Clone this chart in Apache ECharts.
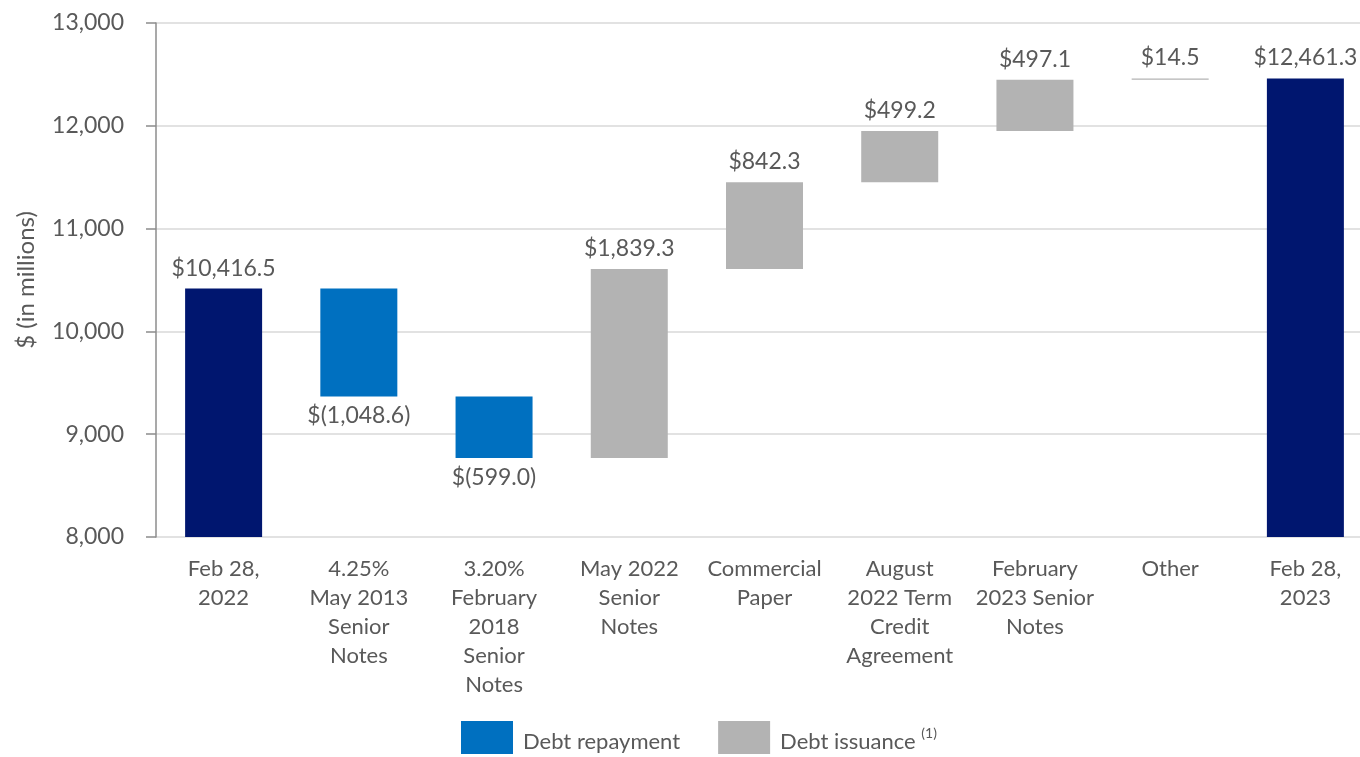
<!DOCTYPE html>
<html lang="en">
<head>
    <meta charset="UTF-8">
    <title>Debt waterfall</title>
    <script src="https://cdn.jsdelivr.net/npm/echarts@6/dist/echarts.min.js"></script>
    <style>
        html, body { margin: 0; padding: 0; background: #fff; }
        #chart { width: 1360px; height: 757px; }
    </style>
</head>
<body>
    <div id="chart"></div>
<script>
    var categories = [
        'Feb 28,\n2022',
        '4.25%\nMay 2013\nSenior\nNotes',
        '3.20%\nFebruary\n2018\nSenior\nNotes',
        'May 2022\nSenior\nNotes',
        'Commercial\nPaper',
        'August\n2022 Term\nCredit\nAgreement',
        'February\n2023 Senior\nNotes',
        'Other',
        'Feb 28,\n2023'
    ];
    // change per step, first and last are totals
    var startTotal = 10416.5;
    var endTotal = 12461.3;
    var changes = [null, -1048.6, -599.0, 1839.3, 842.3, 499.2, 497.1, 14.5, null];

    var yTicks = [8000, 9000, 10000, 11000, 12000, 13000];

    var textColor = '#595959';
    var font = 'Lato';

    function money(v) {
        var s = Math.abs(v).toLocaleString('en-US', { minimumFractionDigits: 1, maximumFractionDigits: 1 });
        return v < 0 ? '$(' + s + ')' : '$' + s;
    }

    // build invisible base + visible pieces
    var base = [], totals = [], repay = [], issue = [];
    var running = startTotal;
    for (var i = 0; i < categories.length; i++) {
        if (i == 0) {
            base.push('-'); totals.push(startTotal); repay.push('-'); issue.push('-');
        } else if (i == categories.length - 1) {
            base.push('-'); totals.push(endTotal); repay.push('-'); issue.push('-');
        } else {
            var c = changes[i];
            if (c < 0) {
                running += c;
                base.push(running); repay.push(-c); issue.push('-');
            } else {
                base.push(running); issue.push(c); repay.push('-');
                running += c;
            }
            totals.push('-');
        }
    }

    var chart = echarts.init(document.getElementById('chart'));

    var labelStyle = { show: true, color: textColor, fontFamily: font, fontSize: 23 };

    var option = {
        animation: false,
        textStyle: { fontFamily: font },
        grid: { left: 156, width: 1217, top: 23, height: 514, outerBoundsMode: 'none', containLabel: false },
        legend: {
            bottom: -2,
            left: 456,
            itemWidth: 52,
            itemHeight: 33,
            itemGap: 38,
            icon: 'rect',
            data: ['Debt repayment', 'Debt issuance'],
            textStyle: {
                color: textColor, fontSize: 22, fontFamily: font, padding: [8, 0, 0, 5],
                rich: {
                    s: { fontSize: 14, color: textColor, fontFamily: font, verticalAlign: 'top', padding: [0, 0, 16, 0] }
                }
            },
            formatter: function (name) {
                return name == 'Debt issuance' ? name + ' {s|(1)}' : name;
            }
        },
        xAxis: {
            type: 'category',
            data: categories,
            axisLine: { show: false },
            axisTick: { show: false },
            axisLabel: { color: textColor, fontSize: 22, fontFamily: font, lineHeight: 29, margin: 17, interval: 0 }
        },
        yAxis: {
            type: 'value',
            min: 8000,
            max: 13000,
            interval: 1000,
            name: '$ (in millions)',
            nameLocation: 'middle',
            nameRotate: 90,
            nameGap: 118,
            nameTextStyle: { color: textColor, fontSize: 24, fontFamily: font },
            axisLine: { show: true, lineStyle: { color: '#8c8c8c', width: 1.5 } },
            axisTick: { show: true, inside: false, length: 10, lineStyle: { color: '#8c8c8c', width: 1.5 } },
            splitLine: { lineStyle: { color: '#d9d9d9', width: 1.5 } },
            axisLabel: {
                color: textColor, fontSize: 23, fontFamily: font, margin: 32,
                formatter: function (v) { return yTicks.indexOf(v) >= 0 ? v.toLocaleString('en-US') : ''; }
            }
        },
        series: [
            {
                name: 'base',
                type: 'bar',
                stack: 'w',
                barWidth: 77,
                itemStyle: { color: 'transparent' },
                emphasis: { disabled: true },
                data: base
            },
            {
                name: 'Total',
                type: 'bar',
                stack: 'w',
                barWidth: 77,
                itemStyle: { color: '#00166f' },
                label: Object.assign({ position: 'top', distance: 9, formatter: function (p) { return money(p.value); } }, labelStyle),
                data: totals
            },
            {
                name: 'Debt repayment',
                type: 'bar',
                stack: 'w',
                barWidth: 77,
                itemStyle: { color: '#0070c0' },
                label: Object.assign({ position: 'bottom', distance: 8, formatter: function (p) { return money(-p.value); } }, labelStyle),
                data: repay
            },
            {
                name: 'Debt issuance',
                type: 'bar',
                stack: 'w',
                barWidth: 77,
                itemStyle: { color: '#b3b3b3' },
                label: Object.assign({ position: 'top', distance: 9, formatter: function (p) { return money(p.value); } }, labelStyle),
                data: issue
            }
        ]
    };

    chart.setOption(option);
</script>
</body>
</html>
